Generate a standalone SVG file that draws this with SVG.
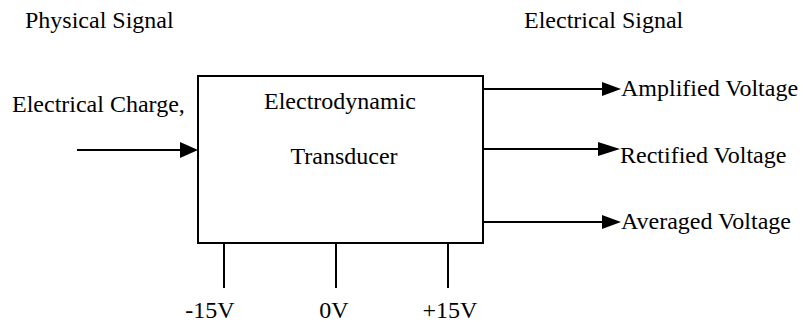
<svg xmlns="http://www.w3.org/2000/svg" width="803" height="322" viewBox="0 0 803 322">
<defs>
<style>
text{font-family:"Liberation Serif","Times New Roman",serif;font-size:24px;fill:#000}
.ln{stroke:#000;stroke-width:2;fill:none}
.box{stroke:#000;stroke-width:2;fill:#fff}
.ah{fill:#000}
</style>
</defs>
<rect width="803" height="322" fill="#fff"/>
<text x="25" y="28">Physical Signal</text>
<text x="524" y="28">Electrical Signal</text>
<g id="input">
<text x="12" y="112">Electrical Charge,</text>
</g>
<g id="transducer">
<rect class="box" x="198" y="76" width="285" height="167"/>
<text x="340" y="109" text-anchor="middle">Electrodynamic</text>
<text x="344" y="164" text-anchor="middle">Transducer</text>
</g>
<g id="outputs">
<text x="621" y="96">Amplified Voltage</text>
<text x="620" y="163">Rectified Voltage</text>
<text x="621" y="229">Averaged Voltage</text>
</g>
<g id="supplies">
<text x="210" y="318" text-anchor="middle">-15V</text>
<text x="334" y="318" text-anchor="middle">0V</text>
<text x="450" y="318" text-anchor="middle">+15V</text>
</g>
<g id="connectors">
<line class="ln" x1="77" y1="150" x2="190" y2="150"/>
<path class="ah" d="M180,142 L198,150 L180,158 Z"/>
<line class="ln" x1="483" y1="89" x2="605" y2="89"/>
<path class="ah" d="M602,82 L621,89 L602,96 Z"/>
<line class="ln" x1="483" y1="149" x2="600" y2="149"/>
<path class="ah" d="M598,142 L620,149 L598,156 Z"/>
<line class="ln" x1="483" y1="222" x2="605" y2="222"/>
<path class="ah" d="M602,215 L621,222 L602,229 Z"/>
<line class="ln" x1="224" y1="243" x2="224" y2="288"/>
<line class="ln" x1="336" y1="243" x2="336" y2="288"/>
<line class="ln" x1="448" y1="243" x2="448" y2="288"/>
</g>
</svg>
